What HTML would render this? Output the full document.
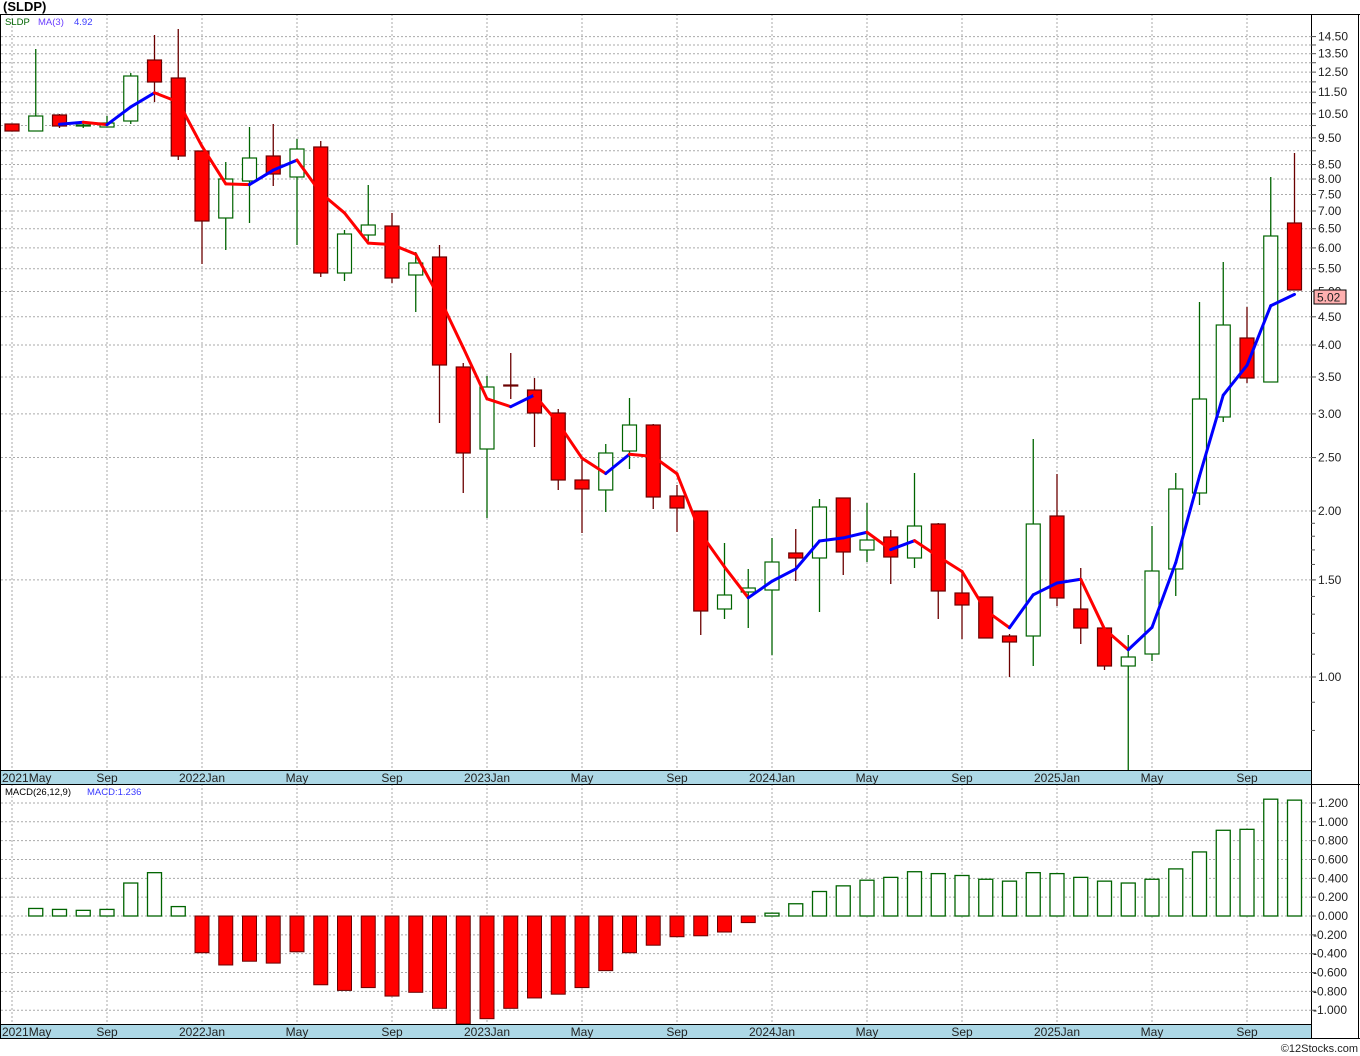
<!DOCTYPE html>
<html><head><meta charset="utf-8"><style>
html,body{margin:0;padding:0;background:#fff;}
svg{display:block;font-family:"Liberation Sans",sans-serif;}
</style></head><body>
<svg id="c" width="1360" height="1056" xmlns="http://www.w3.org/2000/svg"></svg>
<script>
const S=document.getElementById('c');let h='';
const X=i=>12+23.75*i;
const Y=p=>677-166*Math.log2(p);
const P=y=>Math.pow(2,(677-y)/166);
h+='<rect x="0" y="0" width="1360" height="1056" fill="#fff"/>';
const lv=[];for(let v=1.0;v<=14.51;v+=0.5)lv.push(+v.toFixed(2));
lv.forEach(v=>{const y=Y(v);h+=`<line x1="1" x2="1311" y1="${y}" y2="${y}" stroke="#aaa" stroke-dasharray="2,2"/>`;});
for(let i=0;i<=52;i+=4){const x=X(i);h+=`<line x1="${x}" x2="${x}" y1="14" y2="770" stroke="#aaa" stroke-dasharray="2,2"/><line x1="${x}" x2="${x}" y1="784" y2="1024" stroke="#aaa" stroke-dasharray="2,2"/>`;}
const MZ=916,MS=94.2;
for(let v=-1.0;v<=1.21;v+=0.2){const y=MZ-MS*v;h+=`<line x1="1" x2="1311" y1="${y}" y2="${y}" stroke="#aaa" stroke-dasharray="2,2"/>`;}
const D=[['R',124,131,124,131],['G',116,131,49,131],['R',115,126,114,128],['G',125,126,124,128],['G',123,127,116,127],['G',76,121,73,124],['R',60,82,35,102],['R',78,156,29,160],['R',151,221,151,264],['G',179,218,162,250],['G',158,181,127,223],['R',156,174,124,186],['G',149,177,139,245],['R',147,273,141,277],['G',234,273,230,281],['G',225,235,185,241],['R',226,278,213,283],['G',263,275,252,312],['R',257,365,245,423],['R',367,453,363,493],['G',387,449,376,518],['R',385,386,353,399],['R',390,413,378,447],['R',413,480,409,490],['R',480,489,460,533],['G',453,490,444,512],['G',425,451,398,469],['R',425,497,424,509],['R',496,508,485,532],['R',511,611,511,635],['G',595,609,543,619],['G',588,592,569,628],['G',562,590,538,655],['R',553,558,529,581],['G',507,558,499,612],['R',498,552,498,575],['G',540,550,503,562],['R',537,557,530,584],['G',526,558,473,568],['R',524,591,523,619],['R',593,605,572,639],['R',597,638,597,638],['R',636,642,634,677],['G',524,636,439,666],['R',516,598,474,606],['R',609,628,568,644],['R',628,666,628,670],['G',657,666,635,770],['G',571,654,526,661],['G',489,569,473,596],['G',399,493,302,505],['G',325,417,262,422],['R',338,378,307,383],['G',236,382,177,382],['R',223,290,153,290]];
const closes=[];
D.forEach((d,i)=>{const x=X(i);const [c,t,b,hi,lo]=d;const col=c=='R'?'#6b0000':'#006400';const fill=c=='R'?'#ff0000':'#fff';
h+=`<line x1="${x}" x2="${x}" y1="${hi}" y2="${lo}" stroke="${col}" stroke-width="1.3"/>`;
h+=`<rect x="${x-7}" y="${t}" width="14" height="${Math.max(b-t,1)}" fill="${fill}" stroke="${col}" stroke-width="1.2"/>`;
closes.push(P(c=='R'?b:t));});
let prev=null;
for(let i=2;i<closes.length;i++){const m=(closes[i]+closes[i-1]+closes[i-2])/3;const pt=[X(i),Y(m)];
if(prev){h+=`<line x1="${prev[0]}" y1="${prev[1]}" x2="${pt[0]}" y2="${pt[1]}" stroke="${pt[1]<prev[1]?'#0000ff':'#ff0000'}" stroke-width="3" stroke-linecap="round"/>`;}prev=pt;}
const M=[null,.08,.07,.06,.07,.35,.46,.1,-.39,-.52,-.48,-.5,-.38,-.73,-.79,-.76,-.85,-.81,-.98,-1.16,-1.09,-.98,-.87,-.83,-.76,-.58,-.39,-.31,-.22,-.21,-.17,-.07,.03,.13,.26,.32,.38,.41,.47,.45,.43,.39,.37,.46,.45,.41,.37,.35,.39,.5,.68,.91,.92,1.24,1.23];
M.forEach((v,i)=>{if(v==null)return;const x=X(i);let y1=MZ-MS*v;let top=Math.min(y1,MZ),bot=Math.min(Math.max(y1,MZ),1024);
if(v>0)h+=`<rect x="${x-7}" y="${top}" width="14" height="${bot-top}" fill="#fff" stroke="#006400" stroke-width="1.3"/>`;
else h+=`<rect x="${x-7}" y="${top}" width="14" height="${bot-top}" fill="#ff0000" stroke="#6b0000" stroke-width="1"/>`;});
h+='<rect x="0" y="770" width="1311" height="14" fill="#add8e6"/><rect x="0" y="1024" width="1311" height="14" fill="#add8e6"/>';
h+='<line x1="0" x2="1360" y1="14.5" y2="14.5" stroke="#000"/><line x1="0" x2="1311" y1="770.5" y2="770.5" stroke="#000"/><line x1="0" x2="1360" y1="784.5" y2="784.5" stroke="#000"/><line x1="0" x2="1311" y1="1024.5" y2="1024.5" stroke="#000"/><line x1="0" x2="1360" y1="1038.5" y2="1038.5" stroke="#000"/>';
h+='<line x1="0.5" x2="0.5" y1="14" y2="1038" stroke="#000"/><line x1="1311.5" x2="1311.5" y1="14" y2="1038" stroke="#000"/><line x1="1358.5" x2="1358.5" y1="14" y2="1038" stroke="#000"/>';
const ml=['Sep','2022Jan','May','Sep','2023Jan','May','Sep','2024Jan','May','Sep','2025Jan','May','Sep'];
[782,1036].forEach(yb=>{h+=`<text x="2" y="${yb}" font-size="12" fill="#222">2021May</text>`;ml.forEach((t,k)=>{h+=`<text x="${X(4+4*k)}" y="${yb}" font-size="12" fill="#222" text-anchor="middle">${t}</text>`;});});
const pl=[1,1.5,2,2.5,3,3.5,4,4.5,5,5.5,6,6.5,7,7.5,8,8.5,9.5,10.5,11.5,12.5,13.5,14.5];
lv.forEach(v=>{const y=Y(v);h+=`<line x1="1311" x2="1316" y1="${y}" y2="${y}" stroke="#555"/>`;});
for(let v=0.8;v<2;v+=0.1){const y=Y(v);if(y<770)h+=`<line x1="1311" x2="1315" y1="${y}" y2="${y}" stroke="#555"/>`;}
pl.forEach(v=>{h+=`<text x="1318" y="${Y(v)+4}" font-size="12" fill="#222">${v.toFixed(2)}</text>`;});
h+=`<rect x="1314" y="290" width="32" height="14" fill="#ffb0b0" stroke="#000"/><text x="1317" y="301.5" font-size="12" fill="#222">5.02</text>`;
for(let v=-1.0;v<=1.21;v+=0.2){const vv=Math.round(v*10)/10;const y=MZ-MS*vv;h+=`<line x1="1311" x2="1316" y1="${y}" y2="${y}" stroke="#555"/><text x="${vv<0?1313:1318}" y="${y+4}" font-size="12" fill="#222">${vv.toFixed(3)}</text>`;}
h+='<text x="3" y="11" font-size="13" font-weight="bold" fill="#000">(SLDP)</text>';
h+='<text x="5" y="25" font-size="9.5" fill="#006400">SLDP</text><text x="38" y="25" font-size="9.5" fill="#6a3dff">MA(3)</text><text x="74" y="25" font-size="9.5" fill="#3a3aff">4.92</text>';
h+='<text x="5" y="795" font-size="9.5" fill="#000">MACD(26,12,9)</text><text x="87" y="795" font-size="9.5" fill="#3a3aff">MACD:1.236</text>';
h+='<text x="1358" y="1052" font-size="11" fill="#222" text-anchor="end">©12Stocks.com</text>';
S.innerHTML=h;
</script>
</body></html>
